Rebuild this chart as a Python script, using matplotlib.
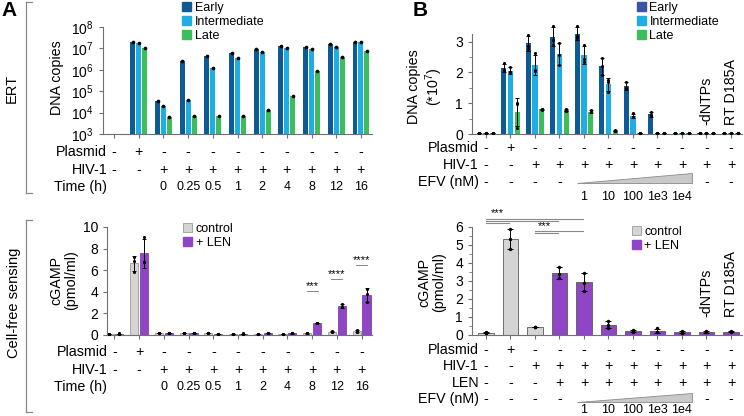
# Figure: ERT and cell-free sensing (panels A and B)
import numpy as np
import matplotlib
matplotlib.use('Agg')
import matplotlib.pyplot as plt
from matplotlib.patches import Patch, Polygon
from matplotlib.lines import Line2D

plt.rcParams['font.family'] = ['Liberation Sans', 'DejaVu Sans']
plt.rcParams['mathtext.fontset'] = 'custom'
plt.rcParams['mathtext.rm'] = 'Liberation Sans'
plt.rcParams['mathtext.it'] = 'Liberation Sans:italic'
plt.rcParams['mathtext.bf'] = 'Liberation Sans:bold'

W, H = 744, 416

# ---------------- data ----------------
# panel A (time course)
a_plasmid = ['-', '+', '-', '-', '-', '-', '-', '-', '-', '-', '-']
a_hiv     = ['-', '-', '+', '+', '+', '+', '+', '+', '+', '+', '+']
a_time    = ['', '', '0', '0.25', '0.5', '1', '2', '4', '8', '12', '16']

a_early = [np.nan, 1.9e7, 3.6e4, 2.7e6, 4.6e6, 6.3e6, 9.4e6, 1.3e7, 1.2e7, 1.55e7, 2.1e7]
a_inter = [np.nan, 1.85e7, 2.0e4, 3.9e4, 1.18e6, 3.5e6, 7.0e6, 1.0e7, 9.0e6, 1.2e7, 1.9e7]
a_late  = [np.nan, 1.0e7, 6.0e3, 6.9e3, 6.9e3, 6.9e3, 1.3e4, 6.0e4, 8.7e5, 4.1e6, 7.6e6]

# cGAMP (pmol/ml), three replicates per condition
a_ctrl_reps = [[0.10, 0.12, 0.09], [7.2, 6.85, 5.85], [0.20, 0.22, 0.19], [0.15, 0.16, 0.14],
               [0.15, 0.16, 0.14], [0.12, 0.13, 0.11], [0.10, 0.12, 0.09], [0.08, 0.10, 0.07],
               [0.15, 0.17, 0.14], [0.30, 0.33, 0.28], [0.45, 0.32, 0.30]]
a_len_reps  = [[0.12, 0.14, 0.11], [9.1, 6.8, 6.8], [0.20, 0.21, 0.19], [0.15, 0.16, 0.14],
               [0.12, 0.13, 0.11], [0.12, 0.14, 0.11], [0.15, 0.16, 0.14], [0.15, 0.17, 0.14],
               [1.10, 1.12, 1.08], [2.9, 2.55, 2.55], [4.25, 3.8, 3.05]]
a_sig = ['', '', '', '', '', '', '', '', '***', '****', '****']
a_sig_y = [0, 0, 0, 0, 0, 0, 0, 0, 4.1, 5.2, 6.5]

# panel B (EFV titration)
b_plasmid = ['-', '+', '-', '-', '-', '-', '-', '-', '-', '-', '-']
b_hiv     = ['-', '-', '+', '+', '+', '+', '+', '+', '+', '+', '+']
b_len     = ['-', '-', '-', '+', '+', '+', '+', '+', '+', '+', '+']
b_efv     = ['-', '-', '-', '-', '', '', '', '', '', '-', '-']
b_efv_dose = ['', '', '', '', '1', '10', '100', '1e3', '1e4', '', '']
b_names = {9: '-dNTPs', 10: 'RT D185A'}

# DNA copies (*10^7), replicates
b_early_reps = [[0.02] * 3, [2.3, 2.08, 2.05], [3.23, 2.85, 2.75], [3.5, 3.07, 2.9],
                [3.52, 3.17, 3.12], [2.47, 2.2, 1.92], [1.7, 1.5, 1.45], [0.73, 0.62, 0.58],
                [0.02] * 3, [0.02] * 3, [0.02] * 3]
b_inter_reps = [[0.02] * 3, [2.18, 2.0, 2.0], [2.63, 2.08, 2.05], [2.97, 2.58, 2.25],
                [2.9, 2.45, 2.35], [1.76, 1.7, 1.37], [0.67, 0.56, 0.55], [0.03] * 3,
                [0.02] * 3, [0.02] * 3, [0.02] * 3]
b_late_reps  = [[0.02] * 3, [1.0, 0.98, 0.2], [0.82, 0.8, 0.78], [0.82, 0.76, 0.75],
                [0.78, 0.7, 0.7], [0.12, 0.1, 0.1], [0.02] * 3, [0.02] * 3,
                [0.02] * 3, [0.02] * 3, [0.02] * 3]

b_cgamp_reps = [[0.12, 0.15, 0.10], [5.9, 5.35, 4.8], [0.45, 0.43, 0.45], [3.8, 3.38, 3.17],
                [3.45, 2.9, 2.45], [0.8, 0.55, 0.4], [0.28, 0.2, 0.18], [0.38, 0.15, 0.15],
                [0.22, 0.13, 0.12], [0.2, 0.15, 0.15], [0.2, 0.17, 0.17]]
b_cgamp_len = [False, False, False, True, True, True, True, True, True, True, True]

C_EARLY, C_INTER, C_LATE = '#0d5a95', '#1eaee4', '#3dbd5c'
C_CTRL, C_LEN = '#d4d4d4', '#8f45c6'
SPINE = '#707070'
FS_ROW, FS_NUM, FS_TICK, FS_LEG = 10.3, 9, 10, 9

x = np.arange(11)

fig = plt.figure(figsize=(W / 100, H / 100), dpi=100)


def add_ax(l, t, r, b):
    ax = fig.add_axes([l / W, 1 - b / H, (r - l) / W, (b - t) / H])
    for s in ['top', 'right']:
        ax.spines[s].set_visible(False)
    for s in ['left', 'bottom']:
        ax.spines[s].set_color(SPINE)
        ax.spines[s].set_linewidth(0.8)
    ax.tick_params(colors='black', labelsize=FS_TICK, width=0.8, length=3)
    ax.tick_params(axis='both', color=SPINE)
    ax.tick_params(which='minor', color=SPINE, length=2)
    ax.set_xticks(x)
    ax.set_xticklabels([])
    return ax


def put(ax, s, i, dy, fs, ha='center'):
    ax.annotate(s, xy=(i, 0), xycoords=('data', 'axes fraction'), xytext=(0, -dy),
                textcoords='offset pixels', ha=ha, va='center', fontsize=fs,
                annotation_clip=False)


def rows(ax, entries, lab_x=-0.28):
    for name, dy, signs in entries:
        put(ax, name, lab_x, dy, FS_ROW, ha='right')
        for i, s in enumerate(signs):
            if s:
                put(ax, s, i, dy, FS_ROW)


def numbers(ax, labels, dy):
    for i, t in enumerate(labels):
        if t:
            put(ax, t, i, dy, FS_NUM)


def wedge(ax, x0, x1, dy_bot, dy_top, h_px):
    tr = ax.get_xaxis_transform()
    p = Polygon([[x0, -dy_bot / h_px], [x1, -dy_bot / h_px], [x1, -dy_top / h_px]],
                closed=True, transform=tr, clip_on=False, facecolor='#c9c9c9',
                edgecolor='#8a8a8a', linewidth=0.6)
    ax.add_patch(p)


def legend(ax, handles, labels, lx, ty):
    ax.legend(handles, labels, loc='upper left', bbox_to_anchor=(lx / W, 1 - ty / H),
              bbox_transform=fig.transFigure, frameon=False, fontsize=FS_LEG,
              handlelength=0.7, handleheight=0.7, handletextpad=0.3,
              labelspacing=0.15, borderpad=0, borderaxespad=0)


def reps_bar(ax, pos, reps, width, color, edge=None):
    m = np.array([np.mean(r) for r in reps])
    sd = np.array([np.std(r, ddof=1) for r in reps])
    ax.bar(pos, m, width, color=color, edgecolor=edge if edge else color,
           linewidth=0.5 if edge else 0)
    ax.errorbar(pos, m, yerr=sd, fmt='none', ecolor='black', elinewidth=0.7,
                capsize=1.5, capthick=0.7, clip_on=False)
    for p, r in zip(pos, reps):
        ax.scatter([p] * len(r), r, s=5, color='black', zorder=4, clip_on=False,
                   linewidths=0)


def fig_line(x0, y0, x1, y1, **kw):
    fig.add_artist(Line2D([x0 / W, x1 / W], [1 - y0 / H, 1 - y1 / H],
                          transform=fig.transFigure, **kw))


def fig_text(xp, yp, s, **kw):
    fig.text(xp / W, 1 - yp / H, s, **kw)


# ---------------- A top: ERT (log) ----------------
ax1 = add_ax(103, 27, 372, 134)
ax1.set_yscale('log')
bw = 0.2
for off, vals, c in [(-0.24, a_early, C_EARLY), (0, a_inter, C_INTER), (0.24, a_late, C_LATE)]:
    ax1.bar(x + off, vals, bw, color=c, linewidth=0)
    ax1.scatter(x + off, vals, s=7, color='black', zorder=4, linewidths=0, clip_on=False)
ax1.set_ylim(1e3, 1e8)
ax1.set_xlim(-0.45, 10.45)
ax1.set_yticks([1e3, 1e4, 1e5, 1e6, 1e7, 1e8])
ax1.set_yticklabels(['$10^{%d}$' % k for k in range(3, 9)])
ax1.minorticks_off()
rows(ax1, [('Plasmid', 18, a_plasmid), ('HIV-1', 36, a_hiv), ('Time (h)', 53, [])])
numbers(ax1, a_time, 53)
legend(ax1, [Patch(color=C_EARLY), Patch(color=C_INTER), Patch(color=C_LATE)],
       ['Early', 'Intermediate', 'Late'], 182, 2)

# ---------------- A bottom: cGAMP ----------------
ax2 = add_ax(107, 227, 372, 335)
reps_bar(ax2, x - 0.2, a_ctrl_reps, 0.33, C_CTRL, '#8c8c8c')
reps_bar(ax2, x + 0.2, a_len_reps, 0.33, C_LEN, '#6d2fa0')
ax2.set_xlim(-0.3, 10.42)
ax2.set_ylim(0, 10)
ax2.set_yticks([0, 2, 4, 6, 8, 10])
for g, (s, y) in enumerate(zip(a_sig, a_sig_y)):
    if s:
        ax2.plot([g - 0.22, g + 0.22], [y, y], color='#888888', lw=0.7)
        ax2.text(g, y + 0.45, s, ha='center', va='center', fontsize=8)
rows(ax2, [('Plasmid', 17, a_plasmid), ('HIV-1', 35, a_hiv), ('Time (h)', 52, [])])
numbers(ax2, a_time, 52)
legend(ax2, [Patch(facecolor=C_CTRL, edgecolor='#8c8c8c', lw=0.5), Patch(color=C_LEN)],
       ['control', '+ LEN'], 183, 223)

# ---------------- B top: DNA copies (linear) ----------------
ax3 = add_ax(472, 34, 742, 134)
for off, reps, c in [(-0.27, b_early_reps, C_EARLY), (0, b_inter_reps, C_INTER),
                     (0.27, b_late_reps, C_LATE)]:
    reps_bar(ax3, x + off, reps, 0.21, c)
ax3.set_xlim(-0.57, 10.45)
ax3.set_ylim(0, 3.25)
ax3.set_yticks([0, 1, 2, 3])
ax3.set_yticks([0.5, 1.5, 2.5], minor=True)
for g, s in b_names.items():
    ax3.text(g, 0.3, s, rotation=90, ha='center', va='bottom', fontsize=FS_ROW)
rows(ax3, [('Plasmid', 14, b_plasmid), ('HIV-1', 31, b_hiv), ('EFV (nM)', 48, b_efv)])
numbers(ax3, b_efv_dose, 63)
wedge(ax3, 3.7, 8.4, 49, 39, 100)
legend(ax3, [Patch(color='#3a55a5'), Patch(color=C_INTER), Patch(color=C_LATE)],
       ['Early', 'Intermediate', 'Late'], 637, 2)

# ---------------- B bottom: cGAMP ----------------
ax4 = add_ax(472, 227, 742, 335)
cols = [C_LEN if f else C_CTRL for f in b_cgamp_len]
m4 = np.array([np.mean(r) for r in b_cgamp_reps])
sd4 = np.array([np.std(r, ddof=1) for r in b_cgamp_reps])
ax4.bar(x, m4, 0.65, color=cols, edgecolor='#5a5a5a', linewidth=0.6)
ax4.errorbar(x, m4, yerr=sd4, fmt='none', ecolor='black', elinewidth=0.7,
             capsize=2, capthick=0.7)
for p, r in zip(x, b_cgamp_reps):
    ax4.scatter([p] * 3, r, s=6, color='black', zorder=4, linewidths=0)
ax4.set_xlim(-0.57, 10.45)
ax4.set_ylim(0, 6)
ax4.set_yticks(range(7))
ax4.set_yticks(np.arange(0.5, 6, 1), minor=True)
for g, s in b_names.items():
    ax4.text(g, 1.0, s, rotation=90, ha='center', va='bottom', fontsize=FS_ROW)
# significance brackets
for y, x1 in [(6.44, 3.95), (6.33, 2.95), (6.22, 0.95)]:
    ax4.plot([0, x1], [y, y], color='#8a8a8a', lw=0.8, clip_on=False)
for y, x1 in [(5.78, 3.95), (5.67, 2.95)]:
    ax4.plot([2.0, x1], [y, y], color='#8a8a8a', lw=0.8, clip_on=False)
ax4.text(0.45, 6.75, '***', ha='center', va='center', fontsize=8)
ax4.text(2.4, 6.05, '***', ha='center', va='center', fontsize=8)
rows(ax4, [('Plasmid', 15, b_plasmid), ('HIV-1', 31, b_hiv), ('LEN', 48, b_len),
           ('EFV (nM)', 64, b_efv)])
numbers(ax4, b_efv_dose, 75)
wedge(ax4, 3.7, 8.4, 67, 58, 108)
legend(ax4, [Patch(facecolor=C_CTRL, edgecolor='#8c8c8c', lw=0.5), Patch(color=C_LEN)],
       ['control', '+ LEN'], 632, 226)

# ---------------- labels, brackets ----------------
fig_text(57, 78, 'DNA copies', rotation=90, ha='center', va='center', fontsize=10.3)
fig_text(64, 280, 'cGAMP\n(pmol/ml)', rotation=90, ha='center', va='center',
         fontsize=10.3, multialignment='center', linespacing=1.1)
fig_text(426, 87, 'DNA copies\n(*10$^7$)', rotation=90, ha='center', va='center',
         fontsize=10.3, multialignment='center', linespacing=1.1)
fig_text(432, 282, 'cGAMP\n(pmol/ml)', rotation=90, ha='center', va='center',
         fontsize=10.3, multialignment='center', linespacing=1.1)

fig_text(12, 88, 'ERT', rotation=90, ha='center', va='center', fontsize=10.5)
fig_text(14, 303, 'Cell-free sensing', rotation=90, ha='center', va='center', fontsize=10.5)
fig_text(9, 11, 'A', ha='center', va='center', fontsize=15, fontweight='bold')
fig_text(420, 11, 'B', ha='center', va='center', fontsize=15, fontweight='bold')

for y0, y1 in [(2, 193), (220, 412)]:
    fig_line(26, y0, 26, y1, color='#8a8a8a', lw=0.9)
    fig_line(26, y0, 32, y0, color='#8a8a8a', lw=0.9)
    fig_line(26, y1, 32, y1, color='#8a8a8a', lw=0.9)

fig.savefig('out.png', dpi=100)
